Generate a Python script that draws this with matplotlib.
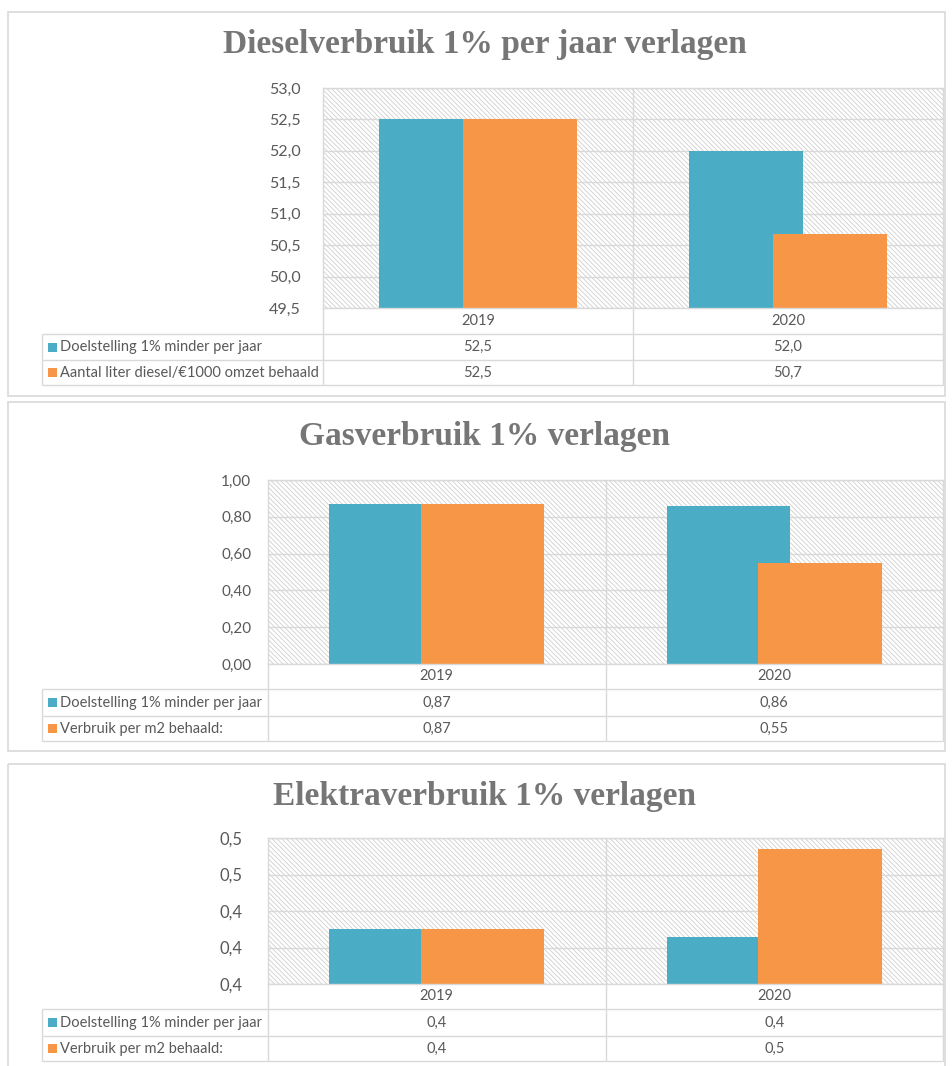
import matplotlib
matplotlib.use("Agg")
import matplotlib.pyplot as plt
from matplotlib.patches import Rectangle

plt.rcParams['font.family'] = ['Lato', 'DejaVu Sans']
plt.rcParams['hatch.linewidth'] = 0.6

W, H = 952, 1066

# Data.
years = ["2019", "2020"]

diesel_labels = ["Doelstelling 1% minder per jaar", "Aantal liter diesel/€1000 omzet behaald"]
diesel_target = [52.5, 52.0]
diesel_actual = [52.5, 50.67]

gas_labels = ["Doelstelling 1% minder per jaar", "Verbruik per m2 behaald:"]
gas_target = [0.87, 0.86]
gas_actual = [0.87, 0.55]

elektra_labels = ["Doelstelling 1% minder per jaar", "Verbruik per m2 behaald:"]
elektra_target = [0.430, 0.426]
elektra_actual = [0.430, 0.474]

# Colours.
BLUE = "#4BACC6"
ORANGE = "#F79646"
TEXT = "#595959"
TITLE = "#767676"
LINE = "#d9d9d9"
HATCH = "#cfcfcf"

fig = plt.figure(figsize=(W / 100, H / 100), dpi=100)
fig.patch.set_facecolor("white")

# Overlay axes in pixel coords for borders, titles and tables.
ov = fig.add_axes([0, 0, 1, 1])
ov.set_xlim(0, W)
ov.set_ylim(H, 0)
ov.axis("off")


def px_rect(x0, y0, x1, y1):
    return [x0 / W, 1 - y1 / H, (x1 - x0) / W, (y1 - y0) / H]


def hline(x0, x1, y):
    ov.plot([x0, x1], [y, y], color=LINE, lw=1, solid_capstyle="butt")


def vline(x, y0, y1):
    ov.plot([x, x], [y0, y1], color=LINE, lw=1, solid_capstyle="butt")


def draw_panel(box, plot, table, title, title_size, labels, target, actual,
               ylim, ystep, yfmt, vfmt, tick_size, tick_pad):
    # Panel border.
    ov.add_patch(Rectangle((box[0], box[1]), box[2] - box[0], box[3] - box[1],
                           facecolor="none", edgecolor=LINE, lw=1.2))
    ov.text((box[0] + box[2]) / 2 + 8, title[1], title[0], ha="center", va="center",
            fontsize=title_size, fontweight="bold", color=TITLE,
            family="Liberation Serif")

    x0, y0, x1, y1 = plot
    ax = fig.add_axes(px_rect(x0, y0, x1, y1))
    ax.set_xlim(-0.5, 1.5)
    ax.set_ylim(*ylim)
    ax.add_patch(Rectangle((0, 0), 1, 1, transform=ax.transAxes, facecolor="white",
                           edgecolor=HATCH, hatch="\\" * 7, lw=0, zorder=0))
    ticks = []
    t = ylim[0]
    while t <= ylim[1] + 1e-9:
        ticks.append(t)
        t += ystep
    ax.set_yticks(ticks)
    ax.set_yticklabels([yfmt.format(v).replace(".", ",") for v in ticks])
    ax.set_xticks([])
    ax.tick_params(axis="y", length=0, pad=tick_pad, labelsize=tick_size, labelcolor=TEXT)
    ax.set_axisbelow(True)
    ax.yaxis.grid(True, color=LINE, lw=1)
    ax.axvline(0.5, color=LINE, lw=1, zorder=0.5)
    for s in ax.spines.values():
        s.set_color(LINE)
        s.set_linewidth(1)

    xs = range(len(years))
    width = 0.366
    off = 0.135
    base = ylim[0]
    ax.bar([x - off for x in xs], [v - base for v in target], width, bottom=base,
           color=BLUE, zorder=2)
    ax.bar([x + off for x in xs], [v - base for v in actual], width, bottom=base,
           color=ORANGE, zorder=2)

    # Data table.
    tl, r0, r1, r2, r3 = table
    mid = (x0 + x1) / 2
    vline(x0, y1, r3)
    vline(mid, y1, r3)
    vline(x1, y1, r3)
    vline(tl, r1, r3)
    for r in (r1, r2, r3):
        hline(tl, x1, r)
    centers = [x0 + (i + 0.5) * (x1 - x0) / len(years) for i in range(len(years))]
    for c, yr in zip(centers, years):
        ov.text(c, (r0 + r1) / 2, yr, ha="center", va="center", fontsize=10.5, color=TEXT)
    rows = [(r1, r2, labels[0], target, BLUE), (r2, r3, labels[1], actual, ORANGE)]
    for ra, rb, lab, vals, col in rows:
        cy = (ra + rb) / 2
        ov.add_patch(Rectangle((tl + 6, cy - 4.5), 9, 9, facecolor=col, edgecolor="none"))
        ov.text(tl + 18, cy, lab, ha="left", va="center", fontsize=10.5, color=TEXT)
        for c, v in zip(centers, vals):
            ov.text(c, cy, vfmt.format(v).replace(".", ","), ha="center", va="center",
                    fontsize=10.5, color=TEXT)
    return ax


draw_panel((8, 12, 945, 396), (323, 88, 943, 308), (42, 308, 334, 360, 385),
           ("Dieselverbruik 1% per jaar verlagen", 45), 24,
           diesel_labels, diesel_target, diesel_actual,
           (49.5, 53.0), 0.5, "{:.1f}", "{:.1f}", 11.5, 16)

draw_panel((8, 402, 945, 751), (268, 480, 943, 664), (42, 664, 689, 716, 741),
           ("Gasverbruik 1% verlagen", 437), 24,
           gas_labels, gas_target, gas_actual,
           (0.0, 1.0), 0.2, "{:.2f}", "{:.2f}", 11, 12)

draw_panel((8, 764, 945, 1075), (268, 838, 943, 984), (42, 984, 1009, 1036, 1061),
           ("Elektraverbruik 1% verlagen", 797), 24,
           elektra_labels, elektra_target, elektra_actual,
           (0.40, 0.48), 0.02, "{:.1f}", "{:.1f}", 12, 18)

fig.savefig("out.png", dpi=100)
